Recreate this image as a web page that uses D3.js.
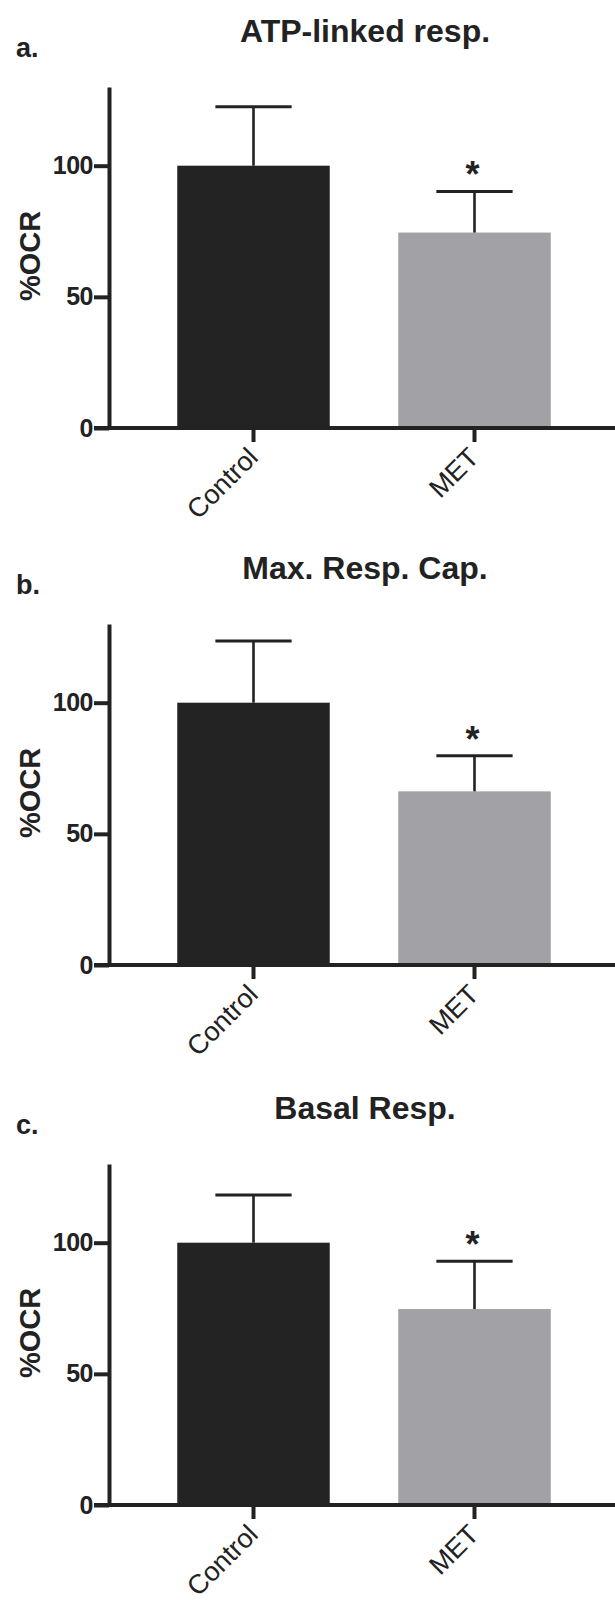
<!DOCTYPE html>
<html>
<head>
<meta charset="utf-8">
<script src="https://cdn.jsdelivr.net/npm/d3@7"></script>
<style>
  body { margin: 0; background: #fff; }
  svg text { font-family: "Liberation Sans", Arial, Helvetica, sans-serif; fill: #222; }
</style>
</head>
<body>
<div id="chart"></div>
<script>
// data
const panelLetters = ['a.', 'b.', 'c.'];
const panelTitles = ['ATP-linked resp.', 'Max. Resp. Cap.', 'Basal Resp.'];
const groups = ['Control', 'MET'];
const meanOCR = [
  [100, 74.5],
  [100, 66.2],
  [100, 74.7],
];
const sdOCR = [
  [22.5, 15.7],
  [23.5, 13.6],
  [18.2, 18.2],
];
const significant = [
  [false, true],
  [false, true],
  [false, true],
];
const yTicks = [0, 50, 100];

const width = 615;
const height = 1600;
const colors = {
  ink: '#222222',
  control: '#232323',
  met: '#a1a1a6',
};
// baseline (y = 0) of each panel
const zeroLines = [428, 965, 1505];
const plotHeight = 341;
const axisX = 109;

const svg = d3.select('#chart')
  .append('svg')
  .attr('width', width)
  .attr('height', height);

const x = d3.scaleBand()
  .domain(groups)
  .range([143, 585])
  .paddingInner(0.31)
  .paddingOuter(0.155);

panelTitles.forEach((title, i) => {
  const y0 = zeroLines[i];
  const y = d3.scaleLinear()
    .domain([0, 130])
    .range([y0, y0 - plotHeight]);

  const g = svg.append('g');
  const rows = groups.map((name, j) => ({
    name,
    mean: meanOCR[i][j],
    sd: sdOCR[i][j],
    star: significant[i][j],
  }));

  // panel letter + title
  g.append('text')
    .attr('x', 16)
    .attr('y', y0 - 371)
    .attr('font-size', 27)
    .attr('font-weight', 'bold')
    .text(panelLetters[i]);
  g.append('text')
    .attr('x', 365)
    .attr('y', y0 - 386)
    .attr('text-anchor', 'middle')
    .attr('font-size', 32)
    .attr('font-weight', 'bold')
    .text(title);

  // bars
  g.selectAll('rect.bar')
    .data(rows)
    .join('rect')
    .attr('class', 'bar')
    .attr('x', (d) => x(d.name))
    .attr('width', x.bandwidth())
    .attr('y', (d) => y(d.mean))
    .attr('height', (d) => y(0) - y(d.mean))
    .attr('fill', (d, j) => (j === 0 ? colors.control : colors.met));

  // error bars (upper only)
  const cx = (d) => x(d.name) + x.bandwidth() / 2;
  const capHalf = x.bandwidth() / 4;
  g.selectAll('line.err')
    .data(rows)
    .join('line')
    .attr('class', 'err')
    .attr('x1', cx)
    .attr('x2', cx)
    .attr('y1', (d) => y(d.mean))
    .attr('y2', (d) => y(d.mean + d.sd))
    .attr('stroke', colors.ink)
    .attr('stroke-width', 2.6);
  g.selectAll('line.cap')
    .data(rows)
    .join('line')
    .attr('class', 'cap')
    .attr('x1', (d) => cx(d) - capHalf)
    .attr('x2', (d) => cx(d) + capHalf)
    .attr('y1', (d) => y(d.mean + d.sd))
    .attr('y2', (d) => y(d.mean + d.sd))
    .attr('stroke', colors.ink)
    .attr('stroke-width', 3);

  g.selectAll('text.star')
    .data(rows.filter((d) => d.star))
    .join('text')
    .attr('class', 'star')
    .attr('x', (d) => cx(d) - 2)
    .attr('y', (d) => y(d.mean + d.sd) - 4)
    .attr('text-anchor', 'middle')
    .attr('font-size', 36)
    .attr('font-weight', 'bold')
    .text('*');

  // y axis
  const yAxis = g.append('g')
    .attr('transform', `translate(${axisX},0)`)
    .call(d3.axisLeft(y)
      .tickValues(yTicks)
      .tickSize(15)
      .tickSizeOuter(0)
      .tickPadding(1));
  yAxis.select('.domain')
    .attr('stroke', colors.ink)
    .attr('stroke-width', 4);
  yAxis.selectAll('.tick line')
    .attr('stroke', colors.ink)
    .attr('stroke-width', 4);
  yAxis.selectAll('.tick text')
    .attr('font-size', 25)
    .attr('font-weight', 'bold')
    .attr('fill', colors.ink)
    .attr('font-family', '"Liberation Sans", Arial, sans-serif')
    .attr('letter-spacing', -0.5);

  // x axis
  const xAxis = g.append('g')
    .attr('transform', `translate(0,${y0})`)
    .call(d3.axisBottom(x)
      .tickSize(14)
      .tickSizeOuter(0));
  xAxis.select('.domain').remove();
  xAxis.append('line')
    .attr('x1', axisX - 15)
    .attr('x2', width)
    .attr('stroke', colors.ink)
    .attr('stroke-width', 4);
  xAxis.selectAll('.tick line')
    .attr('stroke', colors.ink)
    .attr('stroke-width', 4);
  xAxis.selectAll('.tick text')
    .attr('font-size', 27)
    .attr('font-family', '"Liberation Sans", Arial, sans-serif')
    .attr('fill', colors.ink)
    .attr('text-anchor', 'end')
    .attr('dy', null)
    .attr('y', null)
    .attr('transform', 'translate(6,31) rotate(-45)');

  // y label
  g.append('text')
    .attr('transform', `translate(40,${y0 - 172}) rotate(-90)`)
    .attr('text-anchor', 'middle')
    .attr('font-size', 29)
    .attr('font-weight', 'bold')
    .text('%OCR');
});
</script>
</body>
</html>
